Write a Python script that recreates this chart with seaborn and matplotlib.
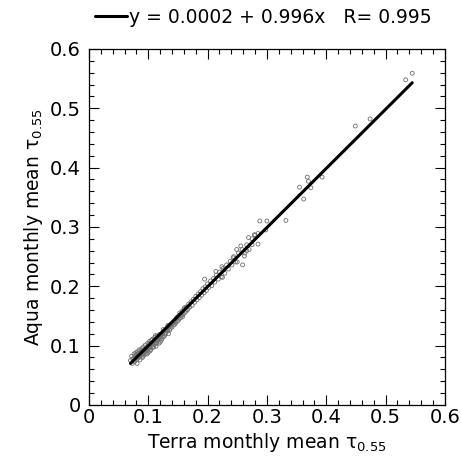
import numpy as np
import pandas as pd
import seaborn as sns
import matplotlib.pyplot as plt
from matplotlib.ticker import MultipleLocator

# Terra vs Aqua monthly mean AOD
terra = [0.070, 0.072, 0.073, 0.075, 0.076, 0.077, 0.078, 0.079, 0.080, 0.080,
         0.081, 0.082, 0.083, 0.084, 0.085, 0.085, 0.086, 0.087, 0.088, 0.089,
         0.090, 0.090, 0.091, 0.092, 0.093, 0.094, 0.095, 0.095, 0.096, 0.097,
         0.098, 0.099, 0.100, 0.100, 0.101, 0.102, 0.103, 0.104, 0.105, 0.106,
         0.107, 0.108, 0.109, 0.110, 0.111, 0.112, 0.113, 0.114, 0.115, 0.116,
         0.117, 0.118, 0.119, 0.120, 0.121, 0.122, 0.124, 0.125, 0.126, 0.128,
         0.129, 0.130, 0.132, 0.133, 0.134, 0.135, 0.137, 0.138, 0.140, 0.141,
         0.143, 0.144, 0.146, 0.147, 0.149, 0.150, 0.152, 0.154, 0.155, 0.157,
         0.159, 0.160, 0.162, 0.164, 0.166, 0.168, 0.170, 0.172, 0.174, 0.176,
         0.178, 0.180, 0.182, 0.184, 0.186, 0.188, 0.190, 0.192, 0.194, 0.196,
         0.198, 0.200, 0.202, 0.205, 0.207, 0.210, 0.212, 0.215, 0.218, 0.220,
         0.223, 0.226, 0.229, 0.232, 0.235, 0.238, 0.241, 0.244, 0.247, 0.252,
         0.258, 0.262, 0.266, 0.270, 0.275, 0.280,
         0.074, 0.078, 0.081, 0.083, 0.086, 0.088, 0.091, 0.093, 0.096, 0.098,
         0.101, 0.103, 0.105, 0.107, 0.109, 0.110, 0.112, 0.114, 0.116, 0.118,
         0.120, 0.122, 0.123, 0.125, 0.127, 0.129, 0.131, 0.133, 0.136, 0.139,
         0.142, 0.145, 0.148, 0.151, 0.153, 0.156, 0.158, 0.161, 0.163, 0.167,
         0.545, 0.534, 0.449, 0.474, 0.393, 0.368, 0.355, 0.370, 0.374, 0.362,
         0.332, 0.288, 0.300, 0.298, 0.285, 0.279, 0.269, 0.285, 0.256, 0.249,
         0.275, 0.266, 0.263, 0.243, 0.250, 0.259, 0.224, 0.214, 0.225, 0.195]
aqua = [0.075, 0.082, 0.070, 0.079, 0.086, 0.073, 0.081, 0.088, 0.076, 0.084,
        0.070, 0.090, 0.079, 0.086, 0.081, 0.093, 0.076, 0.089, 0.084, 0.095,
        0.080, 0.091, 0.087, 0.098, 0.084, 0.094, 0.090, 0.101, 0.087, 0.096,
        0.093, 0.104, 0.089, 0.099, 0.095, 0.107, 0.098, 0.093, 0.104, 0.100,
        0.111, 0.097, 0.106, 0.102, 0.114, 0.105, 0.099, 0.110, 0.116, 0.108,
        0.113, 0.104, 0.119, 0.112, 0.117, 0.109, 0.121, 0.115, 0.124, 0.119,
        0.126, 0.122, 0.130, 0.125, 0.120, 0.133, 0.129, 0.136, 0.131, 0.138,
        0.135, 0.142, 0.139, 0.145, 0.141, 0.149, 0.146, 0.152, 0.147, 0.158,
        0.153, 0.161, 0.156, 0.165, 0.160, 0.170, 0.165, 0.174, 0.168, 0.178,
        0.173, 0.183, 0.177, 0.187, 0.181, 0.191, 0.185, 0.196, 0.189, 0.199,
        0.193, 0.204, 0.198, 0.209, 0.201, 0.213, 0.207, 0.219, 0.212, 0.224,
        0.216, 0.230, 0.222, 0.236, 0.229, 0.242, 0.236, 0.250, 0.241, 0.256,
        0.262, 0.251, 0.270, 0.262, 0.280, 0.286,
        0.077, 0.083, 0.079, 0.087, 0.083, 0.092, 0.082, 0.091, 0.094, 0.086,
        0.102, 0.091, 0.109, 0.103, 0.098, 0.108, 0.117, 0.104, 0.112, 0.115,
        0.106, 0.118, 0.112, 0.127, 0.116, 0.121, 0.126, 0.134, 0.126, 0.133,
        0.139, 0.136, 0.147, 0.143, 0.155, 0.151, 0.149, 0.164, 0.158, 0.163,
        0.559, 0.548, 0.470, 0.482, 0.384, 0.384, 0.367, 0.377, 0.366, 0.347,
        0.311, 0.310, 0.310, 0.295, 0.289, 0.287, 0.282, 0.271, 0.268, 0.262,
        0.270, 0.260, 0.256, 0.248, 0.241, 0.236, 0.233, 0.225, 0.215, 0.212]

intercept = 0.0002
slope = 0.996
r_value = 0.995
fit_range = [0.07, 0.545]

df = pd.DataFrame({'terra': terra, 'aqua': aqua})
fit_df = pd.DataFrame({'x': fit_range})
fit_df['y'] = intercept + slope * fit_df['x']

sns.set_style('ticks', {'text.color': 'black', 'axes.labelcolor': 'black',
                        'xtick.color': 'black', 'ytick.color': 'black',
                        'axes.edgecolor': 'black'})
plt.rcParams['font.family'] = ['DejaVu Sans']

fig = plt.figure(figsize=(4.61, 4.66), dpi=100)
ax = fig.add_axes([0.193, 0.131, 0.772, 0.764])

sns.scatterplot(x='terra', y='aqua', data=df, ax=ax, marker='o', s=8,
                facecolors='none', edgecolor='#707070', linewidth=0.6, zorder=2)
sns.lineplot(x='x', y='y', data=fit_df, ax=ax, color='black', linewidth=2.2,
             label='y = %.4f + %.3fx   R= %.3f' % (intercept, slope, r_value), zorder=3)

ax.set_xlim(0, 0.6)
ax.set_ylim(0, 0.6)
ax.xaxis.set_major_locator(MultipleLocator(0.1))
ax.yaxis.set_major_locator(MultipleLocator(0.1))
ax.xaxis.set_minor_locator(MultipleLocator(0.02))
ax.yaxis.set_minor_locator(MultipleLocator(0.02))
ax.xaxis.set_major_formatter(lambda v, p: '0' if abs(v) < 1e-9 else '%.1f' % v)
ax.yaxis.set_major_formatter(lambda v, p: '0' if abs(v) < 1e-9 else '%.1f' % v)
ax.tick_params(which='both', direction='in', top=True, right=True, width=0.8)
ax.tick_params(which='major', length=7, labelsize=14)
ax.tick_params(axis='y', which='major', pad=6)
ax.tick_params(axis='x', which='major', pad=2)
ax.tick_params(which='minor', length=3.5)
for sp in ax.spines.values():
    sp.set_linewidth(0.9)

ax.set_xlabel('Terra monthly mean τ$_{\\mathregular{0.55}}$', fontsize=13.5, labelpad=3)
ax.set_ylabel('Aqua monthly mean τ$_{\\mathregular{0.55}}$', fontsize=13.5, labelpad=3)

ax.legend(loc='lower center', bbox_to_anchor=(0.49, 1.03), frameon=False,
          fontsize=13.5, handlelength=1.7, handletextpad=0.1, borderaxespad=0.2)

fig.savefig('out.png', dpi=100)
